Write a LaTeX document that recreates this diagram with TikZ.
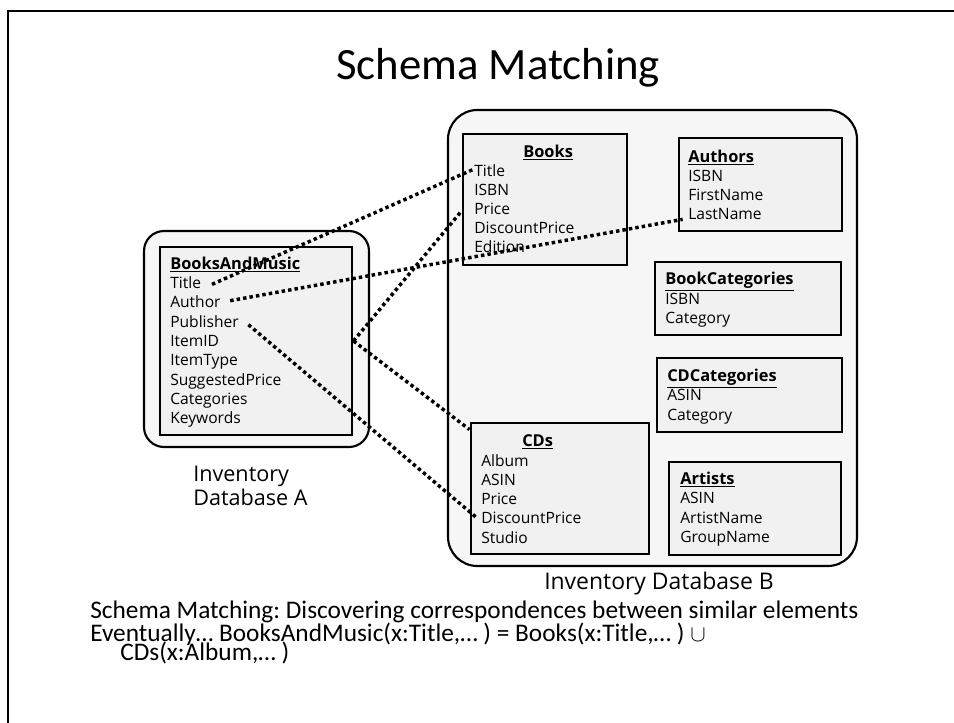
\documentclass[tikz,border=0pt]{standalone}
\usepackage{fontspec}
\setmainfont{Carlito}
\newfontfamily\handfont{Open Sans}
\usetikzlibrary{fit}
\frenchspacing
\definecolor{outgray}{HTML}{F6F6F6}
\definecolor{tblgray}{HTML}{F1F1F1}
\tikzset{
  outerbox/.style={draw, line width=1.6pt, fill=outgray},
  tbl/.style={draw, line width=2.2pt, fill=tblgray, inner sep=0pt},
  fld/.style={anchor=west, inner sep=0pt, text height=10pt, text depth=2.2pt,
    font=\handfont\fontsize{11.7}{14}\selectfont},
  hdr/.style={anchor=west, inner sep=0pt, text height=10pt, text depth=2.2pt,
    font=\handfont\bfseries\fontsize{12.3}{14}\selectfont},
  caption/.style={inner sep=0pt, align=left},
  link/.style={line width=2.6pt, dash pattern=on 2.6pt off 2.3pt},
  bodytext/.style={anchor=base west, inner sep=0pt, font=\fontsize{19}{20}\selectfont}
}
\begin{document}
\begin{tikzpicture}[x=0.75pt,y=-0.75pt]
\useasboundingbox (0,0) rectangle (954,722);
% slide frame
\draw[line width=2.2pt] (8,740) -- (8,11) -- (970,11);
% title
\node[inner sep=0pt, font=\fontsize{33.6}{36}\selectfont] (title) at (498,68) {Schema Matching};

% database A
\node[outerbox, rounded corners=15pt, inner sep=0pt, fit={(144,231) (369,447)}] (dbA) {};
\node[tbl, fit={(160,247) (352,435)}] (bam) {};
\node[hdr] (bam-h) at (170,264) {\underline{BooksAndMusic}};
\node[fld] (bam-title) at (170,283) {Title};
\node[fld] (bam-author) at (170,302) {Author};
\node[fld] (bam-pub) at (170,322) {Publisher};
\node[fld] (bam-itemid) at (170,341) {ItemID};
\node[fld] (bam-type) at (170,360) {ItemType};
\node[fld] (bam-sugg) at (170,380) {SuggestedPrice};
\node[fld] (bam-cat) at (170,399) {Categories};
\node[fld] (bam-kw) at (170,418) {Keywords};
\node[caption, anchor=north west, font=\handfont\fontsize{16.2}{18}\selectfont] (capA) at (193,466) {Inventory\\Database A};

% database B
\node[outerbox, rounded corners=22pt, inner sep=0pt, fit={(448,110) (857,566)}] (dbB) {};
\node[caption, font=\handfont\fontsize{17.2}{18}\selectfont] (capB) at (659,584) {Inventory Database B};

\node[tbl, fit={(463,134) (627,265)}] (books) {};
\node[hdr] (bk-h) at (523,152) {\underline{Books}};
\node[fld] (bk-title) at (474,171) {Title};
\node[fld] (bk-isbn) at (474,190) {ISBN};
\node[fld] (bk-price) at (474,209) {Price};
\node[fld] (bk-disc) at (474,228) {DiscountPrice};
\node[fld] (bk-ed) at (474,247) {Edition};

\node[tbl, fit={(679,138) (842,231)}] (authors) {};
\node[hdr] (au-h) at (688,157) {\underline{Authors}};
\node[fld] (au-isbn) at (688,176) {ISBN};
\node[fld] (au-first) at (688,195) {FirstName};
\node[fld] (au-last) at (688,214) {LastName};

\node[tbl, fit={(655,262) (841,335)}] (bookcat) {};
\node[hdr] (bc-h) at (665,279) {\underline{BookCategories}};
\node[fld] (bc-isbn) at (665,299) {ISBN};
\node[fld] (bc-cat) at (665,318) {Category};

\node[tbl, fit={(657,358) (842,432)}] (cdcat) {};
\node[hdr] (cc-h) at (667,376) {\underline{CDCategories}};
\node[fld] (cc-asin) at (667,395) {ASIN};
\node[fld] (cc-cat) at (667,415) {Category};

\node[tbl, fit={(471,423) (649,554)}] (cds) {};
\node[hdr] (cd-h) at (522,441) {\underline{CDs}};
\node[fld] (cd-album) at (481,461) {Album};
\node[fld] (cd-asin) at (481,480) {ASIN};
\node[fld] (cd-price) at (481,499) {Price};
\node[fld] (cd-disc) at (481,518) {DiscountPrice};
\node[fld] (cd-studio) at (481,538) {Studio};

\node[tbl, fit={(669,462) (841,555)}] (artists) {};
\node[hdr] (ar-h) at (680,479) {\underline{Artists}};
\node[fld] (ar-asin) at (680,498) {ASIN};
\node[fld] (ar-name) at (680,518) {ArtistName};
\node[fld] (ar-group) at (680,537) {GroupName};

% correspondences
\draw[link] ([shift={(8pt,-1pt)}]bam-title.east) -- ([shift={(-1pt,1pt)}]bk-title.west);
\draw[link] ([shift={(7pt,1pt)}]bam-author.east) -- ([shift={(-4pt,-4pt)}]au-last.west);
\draw[link] ([yshift=0pt]bam-itemid -| bam.east) -- ([yshift=-1.5pt]bk-price -| books.west);
\draw[link] ([yshift=0pt]bam-itemid -| bam.east) -- ([yshift=-6pt]cds.north west);
\draw[link] ([shift={(7pt,-2pt)}]bam-pub.east) -- ([shift={(-3pt,0pt)}]cd-disc.west);

% notes
\node[bodytext] (note1) at (90,618) {Schema Matching: Discovering correspondences between similar elements};
\node[bodytext] (note2) at (90,641) {Eventually\dots\ BooksAndMusic(x:Title,\dots\ ) = Books(x:Title,\dots\ ) $\cup$};
\node[bodytext] (note3) at (120,660) {CDs(x:Album,\dots\ )};
\end{tikzpicture}
\end{document}
